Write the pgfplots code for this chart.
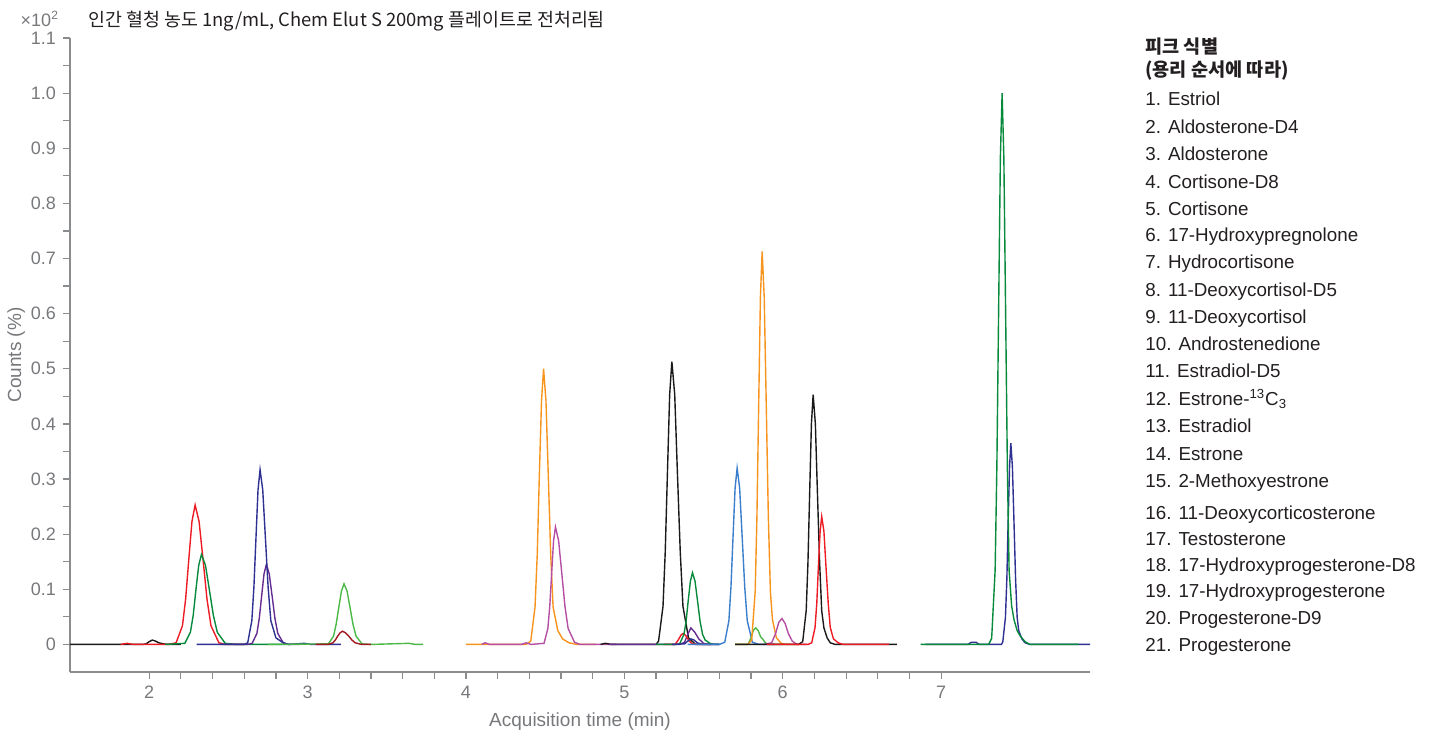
\documentclass[border=0pt]{standalone}
\usepackage{fontspec}
\setmainfont{Liberation Sans}
\newfontfamily\kr{Noto Sans CJK KR}
\usepackage{pgfplots}
\pgfplotsset{compat=1.18}

\definecolor{axgray}{HTML}{8A8C8E}
\definecolor{txtgray}{HTML}{77787B}
\definecolor{cblack}{HTML}{1A1A1A}
\definecolor{ctext}{HTML}{231F20}
\definecolor{cred}{HTML}{ED1C24}
\definecolor{cdgreen}{HTML}{078A3C}
\definecolor{cnavy}{HTML}{2E3192}
\definecolor{cpurple}{HTML}{662D91}
\definecolor{clgreen}{HTML}{4CB848}
\definecolor{cdred}{HTML}{A1191F}
\definecolor{corange}{HTML}{F7941D}
\definecolor{corchid}{HTML}{B64FA3}
\definecolor{csteel}{HTML}{3B7FCC}

\begin{document}
\begin{tikzpicture}
\path[use as bounding box] (0pt,0pt) rectangle (716.5pt,365.5pt);
\begin{axis}[
  at={(35pt,29.5pt)}, anchor=south west,
  scale only axis, width=510pt, height=317pt,
  xmin=1.5, xmax=7.94, ymin=-0.05, ymax=1.1,
  axis lines=left,
  axis line style={draw=axgray, line width=0.6pt, -},
  tick style={draw=axgray, line width=0.6pt},
  tick align=outside,
  major tick length=3.5pt, minor tick length=3.5pt,
  xtick={2,3,4,5,6,7}, xticklabels={2,3,4,5,6,7},
  minor x tick num=4,
  ytick={0,0.1,0.2,0.3,0.4,0.5,0.6,0.7,0.8,0.9,1.0,1.1},
  yticklabels={0,0.1,0.2,0.3,0.4,0.5,0.6,0.7,0.8,0.9,1.0,1.1},
  minor y tick num=1,
  ticklabel style={font=\fontsize{9}{10}\selectfont, text=txtgray},
  xlabel={Acquisition time (min)}, ylabel={Counts (\%)},
  label style={font=\fontsize{9.5}{11}\selectfont, text=txtgray},
  every axis y label/.append style={yshift=-4pt},
  every axis plot/.append style={line width=0.7pt, mark=none},
]
% ---- segment 1 ----
\addplot[cblack] coordinates {(1.5,0)(1.96,0)(1.98,0.001)(2.0,0.005)(2.02,0.008)(2.04,0.006)(2.06,0.003)(2.09,0.001)(2.12,0)(2.2,0)};
\addplot[cred] coordinates {(1.82,0)(1.86,0.002)(1.9,0)(2.12,0)(2.17,0.003)(2.21,0.034)(2.23,0.082)(2.25,0.154)(2.27,0.223)(2.29,0.253)(2.315,0.223)(2.34,0.154)(2.365,0.082)(2.39,0.034)(2.44,0.003)(2.48,0)(2.6,0)};
\addplot[cdgreen] coordinates {(2.1,0)(2.225,0.002)(2.26,0.022)(2.278,0.053)(2.295,0.099)(2.313,0.144)(2.33,0.163)(2.355,0.144)(2.38,0.099)(2.405,0.053)(2.43,0.022)(2.48,0.002)(2.55,0)(2.9,0)};
\addplot[cpurple] coordinates {(2.45,0)(2.62,0)(2.65,0.002)(2.68,0.020)(2.695,0.047)(2.71,0.088)(2.725,0.128)(2.74,0.145)(2.758,0.128)(2.776,0.088)(2.794,0.047)(2.812,0.020)(2.848,0.002)(2.88,0)(2.95,0)};
\addplot[cnavy] coordinates {(2.3,0)(2.6,0)(2.622,0.003)(2.648,0.043)(2.661,0.103)(2.674,0.192)(2.687,0.280)(2.70,0.317)(2.717,0.280)(2.734,0.192)(2.751,0.103)(2.768,0.043)(2.80,0.012)(2.84,0.004)(2.88,0)(2.98,0.002)(3.02,0)(3.21,0)};
\addplot[clgreen] coordinates {(2.75,0)(3.131,0.001)(3.164,0.015)(3.18,0.036)(3.197,0.067)(3.214,0.097)(3.23,0.11)(3.249,0.097)(3.268,0.067)(3.287,0.036)(3.306,0.015)(3.344,0.001)(3.4,0)(3.64,0.002)(3.68,0)(3.73,0)};
\addplot[cdred] coordinates {(3.05,0)(3.13,0)(3.16,0.003)(3.175,0.008)(3.19,0.015)(3.205,0.021)(3.22,0.024)(3.24,0.021)(3.26,0.015)(3.28,0.008)(3.30,0.003)(3.34,0)(3.40,0)};
% ---- segment 2 ----
\addplot[corange] coordinates {(4.0,0)(4.38,0)(4.409,0.006)(4.436,0.068)(4.45,0.163)(4.463,0.304)(4.477,0.442)(4.49,0.50)(4.505,0.442)(4.52,0.304)(4.535,0.163)(4.55,0.068)(4.58,0.025)(4.61,0.01)(4.65,0.003)(4.70,0)(4.82,0)};
\addplot[corchid] coordinates {(4.1,0)(4.12,0.003)(4.15,0)(4.35,0)(4.38,0.003)(4.41,0)(4.493,0.002)(4.517,0.029)(4.529,0.069)(4.541,0.129)(4.553,0.188)(4.565,0.213)(4.585,0.188)(4.605,0.129)(4.625,0.069)(4.645,0.029)(4.685,0.004)(4.72,0)(4.95,0)};
\addplot[cblack] coordinates {(4.85,0)(4.88,0.002)(4.92,0)(5.2,0)(5.216,0.006)(5.244,0.069)(5.258,0.167)(5.272,0.311)(5.286,0.453)(5.30,0.513)(5.318,0.453)(5.335,0.311)(5.353,0.167)(5.37,0.069)(5.405,0.012)(5.45,0)(5.55,0)};
\addplot[cpurple] coordinates {(4.9,0)(5.35,0)(5.38,0.004)(5.40,0.018)(5.42,0.03)(5.445,0.022)(5.47,0.01)(5.50,0.002)(5.53,0)(5.6,0)};
\addplot[cred] coordinates {(5.25,0)(5.32,0)(5.34,0.008)(5.36,0.018)(5.375,0.02)(5.39,0.015)(5.41,0.006)(5.43,0.001)(5.47,0)(5.55,0)};
\addplot[cdgreen] coordinates {(5.2,0)(5.33,0)(5.349,0.001)(5.376,0.018)(5.39,0.042)(5.403,0.079)(5.417,0.115)(5.43,0.13)(5.446,0.115)(5.462,0.079)(5.478,0.042)(5.494,0.018)(5.51,0.008)(5.54,0.002)(5.57,0)(5.6,0)};
\addplot[cnavy] coordinates {(5.3,0)(5.38,0.001)(5.40,0.006)(5.42,0.01)(5.44,0.008)(5.46,0.003)(5.49,0)(5.6,0)};
\addplot[csteel] coordinates {(5.4,0)(5.6,0)(5.634,0.004)(5.66,0.043)(5.673,0.104)(5.686,0.194)(5.699,0.283)(5.712,0.32)(5.728,0.283)(5.744,0.194)(5.76,0.104)(5.776,0.043)(5.808,0.004)(5.85,0)(5.95,0)};
\addplot[clgreen] coordinates {(5.7,0)(5.78,0)(5.80,0.012)(5.815,0.026)(5.83,0.03)(5.845,0.025)(5.86,0.014)(5.875,0.009)(5.89,0.003)(5.91,0)(6.0,0)};
\addplot[corange] coordinates {(5.7,0)(5.78,0)(5.804,0.008)(5.826,0.096)(5.837,0.232)(5.848,0.433)(5.859,0.630)(5.87,0.713)(5.883,0.630)(5.896,0.433)(5.909,0.232)(5.922,0.096)(5.935,0.045)(5.96,0.012)(5.99,0.002)(6.02,0)(6.1,0)};
\addplot[corchid] coordinates {(5.88,0)(5.93,0.003)(5.955,0.02)(5.975,0.04)(5.995,0.047)(6.015,0.038)(6.035,0.02)(6.06,0.006)(6.09,0)(6.15,0)};
\addplot[cblack] coordinates {(5.7,0)(6.1,0)(6.126,0.005)(6.148,0.061)(6.159,0.147)(6.17,0.275)(6.181,0.400)(6.192,0.453)(6.206,0.400)(6.219,0.275)(6.233,0.147)(6.246,0.061)(6.26,0.03)(6.28,0.012)(6.30,0.003)(6.33,0)(6.72,0)};
\addplot[cred] coordinates {(5.9,0)(6.16,0)(6.183,0.003)(6.204,0.031)(6.215,0.075)(6.225,0.141)(6.236,0.205)(6.246,0.232)(6.26,0.205)(6.273,0.141)(6.287,0.075)(6.30,0.031)(6.32,0.01)(6.35,0.003)(6.38,0)(6.67,0)};
% ---- segment 3 ----
\addplot[cnavy] coordinates {(6.9,0)(7.17,0)(7.19,0.004)(7.22,0.004)(7.24,0)(7.38,0)(7.389,0.004)(7.406,0.049)(7.415,0.119)(7.423,0.222)(7.432,0.322)(7.44,0.365)(7.45,0.322)(7.46,0.222)(7.47,0.119)(7.48,0.049)(7.49,0.025)(7.51,0.01)(7.53,0.003)(7.56,0)(7.94,0)};
\addplot[cdgreen] coordinates {(6.87,0)(7.3,0)(7.319,0.011)(7.341,0.135)(7.352,0.325)(7.363,0.607)(7.374,0.883)(7.385,1.0)(7.396,0.883)(7.407,0.607)(7.418,0.325)(7.429,0.135)(7.445,0.07)(7.46,0.045)(7.48,0.025)(7.50,0.015)(7.53,0.005)(7.56,0)(7.87,0)};
\end{axis}
% title
\node[anchor=base east, text=txtgray, font=\fontsize{9}{10}\selectfont] at (33pt,352pt) {×10\textsuperscript{2}};
\node[anchor=base west, font=\kr\fontsize{9.2}{11}\selectfont, text=ctext, inner sep=0pt] at (44pt,352pt) {인간 혈청 농도 1ng/mL, Chem Elut S 200mg 플레이트로 전처리됨};
% peak list
\node[anchor=base west, inner sep=0pt, text=ctext, font=\kr\bfseries\fontsize{9.3}{11}\selectfont] at (572.5pt,338.6pt) {피크 식별};
\node[anchor=base west, inner sep=0pt, text=ctext, font=\kr\bfseries\fontsize{9.3}{11}\selectfont] at (572.5pt,327.1pt) {(용리 순서에 따라)};
\foreach \t/\y in {
  {1. Estriol}/316, {2. Aldosterone-D4}/302, {3. Aldosterone}/288.5,
  {4. Cortisone-D8}/274.5, {5. Cortisone}/261, {6. 17-Hydroxypregnolone}/248,
  {7. Hydrocortisone}/234.5, {8. 11-Deoxycortisol-D5}/220.5, {9. 11-Deoxycortisol}/207,
  {10. Androstenedione}/193.5, {11. Estradiol-D5}/180,
  {12. Estrone-\textsuperscript{13}C\textsubscript{3}}/166,
  {13. Estradiol}/152.5, {14. Estrone}/138.5, {15. 2-Methoxyestrone}/125,
  {16. 11-Deoxycorticosterone}/109, {17. Testosterone}/96,
  {18. 17-Hydroxyprogesterone-D8}/83, {19. 17-Hydroxyprogesterone}/70,
  {20. Progesterone-D9}/56.5, {21. Progesterone}/43}
  {\node[anchor=base west, inner sep=0pt, text=ctext, font=\fontsize{9.4}{11}\selectfont] at (572.5pt,\y pt-3.4pt) {\t};}
\end{tikzpicture}
\end{document}
